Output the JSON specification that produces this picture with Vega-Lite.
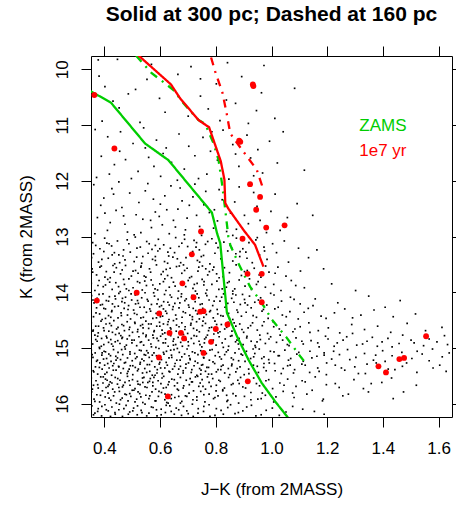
{
"$schema":"https://vega.github.io/schema/vega-lite/v6.json",
"width":361,"height":361,
"autosize":{"type":"none"},
"padding":{"left":91,"top":56,"right":4,"bottom":89},
"title":{"text":"Solid at 300 pc; Dashed at 160 pc","fontSize":21,"fontWeight":"bold","font":"Liberation Sans","offset":21,"color":"black","anchor":"middle","frame":"group"},
"config":{"font":"Liberation Sans","view":{"stroke":"black","strokeWidth":1},"axis":{"grid":false}},
"datasets":{
"field":[
{"j":0.378,"k":9.83},{"j":0.447,"k":9.82},{"j":0.381,"k":10.12},{"j":0.553,"k":10.18},{"j":0.402,"k":10.31},{"j":0.486,"k":10.44},{"j":0.512,"k":10.36},{"j":0.598,"k":10.52},{"j":0.664,"k":10.09},{"j":0.711,"k":9.95},{"j":0.745,"k":10.48},{"j":0.802,"k":10.26},{"j":0.842,"k":9.88},{"j":0.871,"k":10.61},{"j":0.893,"k":10.13},{"j":0.946,"k":10.74},{"j":0.964,"k":10.42},{"j":1.012,"k":10.88},{"j":0.618,"k":10.77},{"j":0.453,"k":10.69},{"j":0.392,"k":10.93},{"j":0.528,"k":10.95},{"j":0.701,"k":10.84},{"j":0.773,"k":10.71},{"j":0.917,"k":10.97},{"j":0.838,"k":10.55},{"j":1.083,"k":10.34},{"j":0.569,"k":9.91},{"j":0.745,"k":10.17},{"j":0.973,"k":9.93},{"j":0.431,"k":10.57},{"j":0.815,"k":10.92},
{"j":0.367,"k":11.08},{"j":0.412,"k":11.21},{"j":0.458,"k":11.12},{"j":0.503,"k":11.33},{"j":0.541,"k":11.05},{"j":0.587,"k":11.27},{"j":0.622,"k":11.41},{"j":0.668,"k":11.16},{"j":0.703,"k":11.38},{"j":0.754,"k":11.22},{"j":0.781,"k":11.47},{"j":0.826,"k":11.09},{"j":0.861,"k":11.35},{"j":0.912,"k":11.18},{"j":0.951,"k":11.44},{"j":0.993,"k":11.29},{"j":1.042,"k":11.12},{"j":0.389,"k":11.56},{"j":0.436,"k":11.71},{"j":0.476,"k":11.62},{"j":0.521,"k":11.83},{"j":0.559,"k":11.58},{"j":0.602,"k":11.92},{"j":0.641,"k":11.67},{"j":0.687,"k":11.79},{"j":0.725,"k":11.55},{"j":0.768,"k":11.88},{"j":0.806,"k":11.63},{"j":0.847,"k":11.97},{"j":0.883,"k":11.74},{"j":0.925,"k":11.59},{"j":0.968,"k":11.86},{"j":1.021,"k":11.68},{"j":0.372,"k":11.94},{"j":0.455,"k":11.47},{"j":0.611,"k":11.51},{"j":0.738,"k":11.96},{"j":0.871,"k":11.52},{"j":0.547,"k":11.41},{"j":0.662,"k":11.99},{"j":1.118,"k":11.81},{"j":0.418,"k":11.88},{"j":0.786,"k":11.12},{"j":0.497,"k":11.96},{"j":0.578,"k":11.74},{"j":0.936,"k":11.91},
{"j":0.362,"k":12.07},{"j":0.398,"k":12.31},{"j":0.427,"k":12.14},{"j":0.463,"k":12.48},{"j":0.491,"k":12.22},{"j":0.524,"k":12.39},{"j":0.556,"k":12.05},{"j":0.583,"k":12.56},{"j":0.617,"k":12.27},{"j":0.648,"k":12.71},{"j":0.672,"k":12.13},{"j":0.705,"k":12.44},{"j":0.731,"k":12.62},{"j":0.764,"k":12.19},{"j":0.792,"k":12.85},{"j":0.823,"k":12.34},{"j":0.853,"k":12.58},{"j":0.884,"k":12.11},{"j":0.917,"k":12.77},{"j":0.948,"k":12.46},{"j":0.982,"k":12.93},{"j":1.013,"k":12.24},{"j":1.057,"k":12.66},{"j":1.092,"k":12.41},{"j":0.375,"k":12.66},{"j":0.411,"k":12.89},{"j":0.442,"k":12.53},{"j":0.474,"k":12.78},{"j":0.507,"k":12.97},{"j":0.538,"k":12.69},{"j":0.569,"k":12.84},{"j":0.601,"k":12.42},{"j":0.633,"k":12.95},{"j":0.664,"k":12.51},{"j":0.691,"k":12.88},{"j":0.718,"k":12.29},{"j":0.749,"k":12.98},{"j":0.777,"k":12.57},{"j":0.806,"k":12.72},{"j":0.839,"k":12.91},{"j":0.868,"k":12.38},{"j":0.903,"k":12.62},{"j":0.387,"k":12.44},{"j":0.452,"k":12.02},{"j":0.514,"k":12.61},{"j":0.576,"k":12.33},{"j":0.639,"k":12.09},{"j":0.697,"k":12.67},{"j":0.757,"k":12.43},{"j":0.812,"k":12.16},{"j":0.874,"k":12.87},{"j":0.936,"k":12.21},{"j":0.998,"k":12.55},{"j":0.421,"k":12.75},{"j":0.483,"k":12.92},{"j":0.547,"k":12.18},{"j":0.608,"k":12.79},{"j":0.679,"k":12.36},{"j":0.742,"k":12.82},{"j":0.795,"k":12.52},{"j":0.366,"k":12.95},{"j":0.433,"k":12.24},{"j":0.597,"k":12.64},{"j":0.655,"k":12.83},{"j":0.725,"k":12.06},{"j":0.861,"k":12.98},{"j":0.959,"k":12.71},{"j":1.031,"k":12.89},{"j":1.148,"k":12.62},{"j":0.531,"k":12.93},{"j":0.624,"k":12.52},{"j":0.402,"k":12.58},{"j":0.566,"k":12.71},{"j":0.687,"k":12.97},{"j":0.469,"k":12.63},
{"j":0.358,"k":13.11},{"j":0.384,"k":13.22},{"j":0.401,"k":13.03},{"j":0.426,"k":13.17},{"j":0.447,"k":13.08},{"j":0.469,"k":13.24},{"j":0.488,"k":13.13},{"j":0.511,"k":13.01},{"j":0.529,"k":13.19},{"j":0.552,"k":13.09},{"j":0.571,"k":13.23},{"j":0.594,"k":13.05},{"j":0.613,"k":13.15},{"j":0.637,"k":13.21},{"j":0.656,"k":13.02},{"j":0.678,"k":13.12},{"j":0.699,"k":13.18},{"j":0.722,"k":13.07},{"j":0.741,"k":13.24},{"j":0.763,"k":13.14},{"j":0.786,"k":13.04},{"j":0.808,"k":13.2},{"j":0.829,"k":13.1},{"j":0.852,"k":13.16},{"j":0.874,"k":13.03},{"j":0.897,"k":13.22},{"j":0.919,"k":13.11},{"j":0.944,"k":13.06},{"j":0.973,"k":13.19},{"j":1.004,"k":13.13},{"j":1.046,"k":13.08},{"j":1.097,"k":13.21},{"j":0.417,"k":13.13},{"j":0.583,"k":13.16},{"j":0.731,"k":13.11},
{"j":0.361,"k":13.31},{"j":0.379,"k":13.46},{"j":0.398,"k":13.27},{"j":0.414,"k":13.39},{"j":0.437,"k":13.49},{"j":0.452,"k":13.33},{"j":0.474,"k":13.42},{"j":0.493,"k":13.28},{"j":0.516,"k":13.37},{"j":0.534,"k":13.48},{"j":0.557,"k":13.3},{"j":0.573,"k":13.41},{"j":0.592,"k":13.26},{"j":0.616,"k":13.45},{"j":0.631,"k":13.35},{"j":0.652,"k":13.29},{"j":0.674,"k":13.47},{"j":0.693,"k":13.38},{"j":0.717,"k":13.27},{"j":0.734,"k":13.43},{"j":0.756,"k":13.34},{"j":0.779,"k":13.49},{"j":0.797,"k":13.3},{"j":0.818,"k":13.4},{"j":0.843,"k":13.26},{"j":0.861,"k":13.44},{"j":0.886,"k":13.36},{"j":0.908,"k":13.28},{"j":0.931,"k":13.47},{"j":0.957,"k":13.33},{"j":0.984,"k":13.41},{"j":1.018,"k":13.29},{"j":1.061,"k":13.46},{"j":1.133,"k":13.38},{"j":0.428,"k":13.33},{"j":0.507,"k":13.45},{"j":0.662,"k":13.4},{"j":0.748,"k":13.36},{"j":0.583,"k":13.36},{"j":0.872,"k":13.31},
{"j":0.356,"k":13.58},{"j":0.372,"k":13.69},{"j":0.389,"k":13.53},{"j":0.407,"k":13.63},{"j":0.421,"k":13.74},{"j":0.443,"k":13.56},{"j":0.458,"k":13.67},{"j":0.476,"k":13.52},{"j":0.497,"k":13.71},{"j":0.512,"k":13.61},{"j":0.531,"k":13.55},{"j":0.549,"k":13.73},{"j":0.566,"k":13.64},{"j":0.587,"k":13.51},{"j":0.604,"k":13.68},{"j":0.622,"k":13.59},{"j":0.641,"k":13.74},{"j":0.659,"k":13.54},{"j":0.678,"k":13.66},{"j":0.697,"k":13.57},{"j":0.713,"k":13.72},{"j":0.736,"k":13.62},{"j":0.752,"k":13.53},{"j":0.771,"k":13.69},{"j":0.789,"k":13.6},{"j":0.812,"k":13.74},{"j":0.831,"k":13.56},{"j":0.849,"k":13.65},{"j":0.873,"k":13.51},{"j":0.892,"k":13.7},{"j":0.913,"k":13.61},{"j":0.938,"k":13.57},{"j":0.962,"k":13.73},{"j":0.991,"k":13.64},{"j":1.023,"k":13.55},{"j":1.052,"k":13.71},{"j":1.104,"k":13.62},{"j":1.187,"k":13.58},{"j":0.435,"k":13.64},{"j":0.521,"k":13.66},{"j":0.611,"k":13.63},{"j":0.684,"k":13.51},{"j":0.764,"k":13.58},{"j":0.803,"k":13.67},{"j":0.464,"k":13.6},
{"j":0.353,"k":13.84},{"j":0.366,"k":13.97},{"j":0.381,"k":13.79},{"j":0.396,"k":13.9},{"j":0.412,"k":13.77},{"j":0.428,"k":13.95},{"j":0.441,"k":13.83},{"j":0.457,"k":13.99},{"j":0.472,"k":13.86},{"j":0.488,"k":13.76},{"j":0.503,"k":13.92},{"j":0.519,"k":13.81},{"j":0.536,"k":13.96},{"j":0.551,"k":13.88},{"j":0.568,"k":13.78},{"j":0.582,"k":13.94},{"j":0.599,"k":13.85},{"j":0.617,"k":13.76},{"j":0.633,"k":13.91},{"j":0.648,"k":13.82},{"j":0.666,"k":13.98},{"j":0.682,"k":13.87},{"j":0.701,"k":13.79},{"j":0.718,"k":13.93},{"j":0.733,"k":13.84},{"j":0.751,"k":13.77},{"j":0.768,"k":13.96},{"j":0.786,"k":13.86},{"j":0.804,"k":13.8},{"j":0.823,"k":13.94},{"j":0.842,"k":13.83},{"j":0.861,"k":13.98},{"j":0.884,"k":13.78},{"j":0.905,"k":13.89},{"j":0.928,"k":13.95},{"j":0.952,"k":13.81},{"j":0.978,"k":13.91},{"j":1.008,"k":13.86},{"j":1.034,"k":13.97},{"j":1.071,"k":13.79},{"j":1.118,"k":13.92},{"j":1.216,"k":13.85},{"j":1.302,"k":13.97},{"j":0.404,"k":13.87},{"j":0.545,"k":13.8},{"j":0.692,"k":13.9},{"j":0.757,"k":13.87},{"j":0.621,"k":13.97},{"j":0.479,"k":13.94},{"j":0.838,"k":13.91},
{"j":0.354,"k":14.06},{"j":0.363,"k":14.19},{"j":0.374,"k":14.11},{"j":0.386,"k":14.23},{"j":0.395,"k":14.03},{"j":0.407,"k":14.15},{"j":0.418,"k":14.08},{"j":0.429,"k":14.21},{"j":0.44,"k":14.12},{"j":0.452,"k":14.02},{"j":0.463,"k":14.17},{"j":0.476,"k":14.09},{"j":0.487,"k":14.24},{"j":0.498,"k":14.14},{"j":0.511,"k":14.05},{"j":0.522,"k":14.2},{"j":0.534,"k":14.1},{"j":0.546,"k":14.01},{"j":0.557,"k":14.16},{"j":0.569,"k":14.22},{"j":0.58,"k":14.07},{"j":0.593,"k":14.13},{"j":0.605,"k":14.24},{"j":0.616,"k":14.04},{"j":0.628,"k":14.18},{"j":0.641,"k":14.09},{"j":0.653,"k":14.2},{"j":0.664,"k":14.11},{"j":0.677,"k":14.03},{"j":0.689,"k":14.15},{"j":0.702,"k":14.23},{"j":0.714,"k":14.06},{"j":0.726,"k":14.17},{"j":0.739,"k":14.1},{"j":0.751,"k":14.21},{"j":0.764,"k":14.02},{"j":0.776,"k":14.14},{"j":0.789,"k":14.24},{"j":0.802,"k":14.08},{"j":0.815,"k":14.16},{"j":0.828,"k":14.03},{"j":0.843,"k":14.2},{"j":0.857,"k":14.11},{"j":0.872,"k":14.05},{"j":0.888,"k":14.22},{"j":0.903,"k":14.13},{"j":0.921,"k":14.07},{"j":0.94,"k":14.18},{"j":0.961,"k":14.1},{"j":0.983,"k":14.23},{"j":1.009,"k":14.05},{"j":1.036,"k":14.16},{"j":1.068,"k":14.09},{"j":1.103,"k":14.21},{"j":1.157,"k":14.12},{"j":1.238,"k":14.19},{"j":1.349,"k":14.07},{"j":1.462,"k":14.15},
{"j":0.352,"k":14.33},{"j":0.361,"k":14.44},{"j":0.372,"k":14.28},{"j":0.383,"k":14.39},{"j":0.392,"k":14.49},{"j":0.404,"k":14.3},{"j":0.415,"k":14.42},{"j":0.426,"k":14.35},{"j":0.437,"k":14.26},{"j":0.449,"k":14.46},{"j":0.46,"k":14.37},{"j":0.471,"k":14.29},{"j":0.483,"k":14.41},{"j":0.494,"k":14.48},{"j":0.505,"k":14.32},{"j":0.517,"k":14.4},{"j":0.528,"k":14.27},{"j":0.54,"k":14.45},{"j":0.551,"k":14.36},{"j":0.563,"k":14.3},{"j":0.574,"k":14.47},{"j":0.586,"k":14.38},{"j":0.598,"k":14.26},{"j":0.609,"k":14.43},{"j":0.62,"k":14.34},{"j":0.632,"k":14.49},{"j":0.645,"k":14.31},{"j":0.656,"k":14.41},{"j":0.668,"k":14.28},{"j":0.679,"k":14.45},{"j":0.691,"k":14.37},{"j":0.704,"k":14.27},{"j":0.716,"k":14.44},{"j":0.728,"k":14.33},{"j":0.741,"k":14.48},{"j":0.753,"k":14.29},{"j":0.766,"k":14.4},{"j":0.778,"k":14.35},{"j":0.791,"k":14.46},{"j":0.805,"k":14.31},{"j":0.818,"k":14.42},{"j":0.833,"k":14.27},{"j":0.846,"k":14.38},{"j":0.861,"k":14.49},{"j":0.876,"k":14.32},{"j":0.892,"k":14.43},{"j":0.909,"k":14.36},{"j":0.927,"k":14.28},{"j":0.946,"k":14.45},{"j":0.966,"k":14.34},{"j":0.988,"k":14.47},{"j":1.012,"k":14.3},{"j":1.039,"k":14.41},{"j":1.066,"k":14.35},{"j":1.096,"k":14.48},{"j":1.132,"k":14.29},{"j":1.178,"k":14.43},{"j":1.226,"k":14.37},{"j":1.291,"k":14.46},{"j":1.368,"k":14.32},{"j":1.437,"k":14.44},{"j":1.517,"k":14.39},{"j":0.423,"k":14.45},{"j":0.612,"k":14.3},{"j":0.734,"k":14.39},
{"j":0.353,"k":14.55},{"j":0.36,"k":14.68},{"j":0.369,"k":14.61},{"j":0.378,"k":14.73},{"j":0.388,"k":14.52},{"j":0.397,"k":14.64},{"j":0.406,"k":14.57},{"j":0.416,"k":14.7},{"j":0.425,"k":14.6},{"j":0.434,"k":14.51},{"j":0.444,"k":14.66},{"j":0.453,"k":14.74},{"j":0.463,"k":14.58},{"j":0.472,"k":14.69},{"j":0.482,"k":14.53},{"j":0.491,"k":14.63},{"j":0.501,"k":14.72},{"j":0.51,"k":14.56},{"j":0.52,"k":14.67},{"j":0.53,"k":14.6},{"j":0.539,"k":14.74},{"j":0.549,"k":14.52},{"j":0.559,"k":14.65},{"j":0.568,"k":14.57},{"j":0.578,"k":14.71},{"j":0.588,"k":14.61},{"j":0.598,"k":14.54},{"j":0.607,"k":14.68},{"j":0.617,"k":14.73},{"j":0.627,"k":14.58},{"j":0.637,"k":14.64},{"j":0.648,"k":14.51},{"j":0.658,"k":14.7},{"j":0.668,"k":14.62},{"j":0.678,"k":14.55},{"j":0.689,"k":14.67},{"j":0.699,"k":14.74},{"j":0.71,"k":14.59},{"j":0.72,"k":14.65},{"j":0.731,"k":14.53},{"j":0.741,"k":14.71},{"j":0.752,"k":14.6},{"j":0.763,"k":14.56},{"j":0.774,"k":14.69},{"j":0.785,"k":14.63},{"j":0.797,"k":14.52},{"j":0.808,"k":14.73},{"j":0.82,"k":14.58},{"j":0.832,"k":14.66},{"j":0.845,"k":14.54},{"j":0.858,"k":14.7},{"j":0.872,"k":14.61},{"j":0.886,"k":14.57},{"j":0.9,"k":14.72},{"j":0.916,"k":14.64},{"j":0.932,"k":14.55},{"j":0.949,"k":14.68},{"j":0.967,"k":14.6},{"j":0.986,"k":14.74},{"j":1.006,"k":14.53},{"j":1.028,"k":14.66},{"j":1.051,"k":14.59},{"j":1.077,"k":14.71},{"j":1.103,"k":14.62},{"j":1.134,"k":14.55},{"j":1.168,"k":14.69},{"j":1.204,"k":14.64},{"j":1.245,"k":14.73},{"j":1.288,"k":14.58},{"j":1.334,"k":14.67},{"j":1.381,"k":14.61},{"j":1.428,"k":14.72},{"j":1.487,"k":14.56},{"j":1.553,"k":14.69},{"j":1.612,"k":14.63},
{"j":0.352,"k":14.81},{"j":0.358,"k":14.93},{"j":0.366,"k":14.77},{"j":0.374,"k":14.88},{"j":0.382,"k":14.99},{"j":0.39,"k":14.83},{"j":0.398,"k":14.94},{"j":0.407,"k":14.79},{"j":0.415,"k":14.9},{"j":0.423,"k":14.85},{"j":0.431,"k":14.97},{"j":0.44,"k":14.76},{"j":0.448,"k":14.87},{"j":0.456,"k":14.92},{"j":0.465,"k":14.81},{"j":0.473,"k":14.98},{"j":0.482,"k":14.84},{"j":0.49,"k":14.78},{"j":0.499,"k":14.91},{"j":0.507,"k":14.86},{"j":0.516,"k":14.96},{"j":0.524,"k":14.8},{"j":0.533,"k":14.89},{"j":0.541,"k":14.95},{"j":0.55,"k":14.77},{"j":0.559,"k":14.86},{"j":0.567,"k":14.93},{"j":0.576,"k":14.82},{"j":0.585,"k":14.99},{"j":0.594,"k":14.87},{"j":0.602,"k":14.79},{"j":0.611,"k":14.91},{"j":0.62,"k":14.84},{"j":0.629,"k":14.97},{"j":0.638,"k":14.78},{"j":0.647,"k":14.88},{"j":0.656,"k":14.94},{"j":0.665,"k":14.81},{"j":0.674,"k":14.9},{"j":0.684,"k":14.76},{"j":0.693,"k":14.85},{"j":0.702,"k":14.96},{"j":0.712,"k":14.83},{"j":0.721,"k":14.92},{"j":0.731,"k":14.79},{"j":0.74,"k":14.88},{"j":0.75,"k":14.98},{"j":0.76,"k":14.84},{"j":0.77,"k":14.77},{"j":0.78,"k":14.9},{"j":0.791,"k":14.86},{"j":0.801,"k":14.95},{"j":0.812,"k":14.8},{"j":0.823,"k":14.91},{"j":0.834,"k":14.84},{"j":0.846,"k":14.97},{"j":0.858,"k":14.78},{"j":0.871,"k":14.89},{"j":0.884,"k":14.83},{"j":0.898,"k":14.94},{"j":0.912,"k":14.79},{"j":0.927,"k":14.88},{"j":0.943,"k":14.99},{"j":0.96,"k":14.85},{"j":0.978,"k":14.92},{"j":0.997,"k":14.8},{"j":1.018,"k":14.9},{"j":1.04,"k":14.86},{"j":1.063,"k":14.96},{"j":1.088,"k":14.82},{"j":1.114,"k":14.93},{"j":1.142,"k":14.87},{"j":1.171,"k":14.98},{"j":1.203,"k":14.84},{"j":1.236,"k":14.91},{"j":1.27,"k":14.8},{"j":1.306,"k":14.95},{"j":1.343,"k":14.88},{"j":1.38,"k":14.97},{"j":1.418,"k":14.83},{"j":1.458,"k":14.92},{"j":1.501,"k":14.86},{"j":1.546,"k":14.96},{"j":1.594,"k":14.89},{"j":1.632,"k":14.94},
{"j":0.353,"k":15.04},{"j":0.359,"k":15.17},{"j":0.367,"k":15.09},{"j":0.375,"k":15.22},{"j":0.383,"k":15.01},{"j":0.391,"k":15.13},{"j":0.399,"k":15.06},{"j":0.408,"k":15.19},{"j":0.416,"k":15.11},{"j":0.424,"k":15.24},{"j":0.433,"k":15.03},{"j":0.441,"k":15.15},{"j":0.449,"k":15.08},{"j":0.458,"k":15.21},{"j":0.466,"k":15.12},{"j":0.475,"k":15.02},{"j":0.483,"k":15.18},{"j":0.492,"k":15.07},{"j":0.5,"k":15.23},{"j":0.509,"k":15.1},{"j":0.517,"k":15.16},{"j":0.526,"k":15.04},{"j":0.535,"k":15.2},{"j":0.543,"k":15.12},{"j":0.552,"k":15.05},{"j":0.561,"k":15.17},{"j":0.57,"k":15.24},{"j":0.578,"k":15.09},{"j":0.587,"k":15.14},{"j":0.596,"k":15.01},{"j":0.605,"k":15.21},{"j":0.614,"k":15.11},{"j":0.623,"k":15.06},{"j":0.632,"k":15.18},{"j":0.641,"k":15.13},{"j":0.65,"k":15.03},{"j":0.66,"k":15.22},{"j":0.669,"k":15.08},{"j":0.678,"k":15.16},{"j":0.688,"k":15.11},{"j":0.697,"k":15.02},{"j":0.707,"k":15.19},{"j":0.716,"k":15.07},{"j":0.726,"k":15.24},{"j":0.736,"k":15.12},{"j":0.746,"k":15.05},{"j":0.756,"k":15.17},{"j":0.766,"k":15.1},{"j":0.777,"k":15.22},{"j":0.787,"k":15.03},{"j":0.798,"k":15.14},{"j":0.809,"k":15.08},{"j":0.82,"k":15.2},{"j":0.832,"k":15.12},{"j":0.844,"k":15.04},{"j":0.856,"k":15.18},{"j":0.869,"k":15.09},{"j":0.882,"k":15.23},{"j":0.896,"k":15.13},{"j":0.91,"k":15.06},{"j":0.925,"k":15.19},{"j":0.94,"k":15.1},{"j":0.956,"k":15.02},{"j":0.973,"k":15.16},{"j":0.99,"k":15.21},{"j":1.009,"k":15.07},{"j":1.028,"k":15.14},{"j":1.048,"k":15.04},{"j":1.069,"k":15.19},{"j":1.091,"k":15.11},{"j":1.114,"k":15.24},{"j":1.138,"k":15.06},{"j":1.163,"k":15.15},{"j":1.189,"k":15.09},{"j":1.216,"k":15.2},{"j":1.244,"k":15.12},{"j":1.273,"k":15.03},{"j":1.303,"k":15.17},{"j":1.334,"k":15.1},{"j":1.366,"k":15.22},{"j":1.399,"k":15.05},{"j":1.433,"k":15.14},{"j":1.468,"k":15.08},{"j":1.504,"k":15.19},{"j":1.541,"k":15.11},{"j":1.578,"k":15.02},{"j":1.613,"k":15.16},{"j":1.638,"k":15.09},{"j":0.397,"k":15.2},{"j":0.548,"k":15.13},
{"j":0.352,"k":15.29},{"j":0.36,"k":15.41},{"j":0.368,"k":15.34},{"j":0.376,"k":15.47},{"j":0.384,"k":15.27},{"j":0.392,"k":15.38},{"j":0.401,"k":15.31},{"j":0.409,"k":15.44},{"j":0.417,"k":15.36},{"j":0.426,"k":15.49},{"j":0.434,"k":15.28},{"j":0.442,"k":15.4},{"j":0.451,"k":15.33},{"j":0.459,"k":15.45},{"j":0.468,"k":15.37},{"j":0.476,"k":15.26},{"j":0.485,"k":15.42},{"j":0.493,"k":15.32},{"j":0.502,"k":15.48},{"j":0.511,"k":15.35},{"j":0.519,"k":15.41},{"j":0.528,"k":15.29},{"j":0.537,"k":15.45},{"j":0.545,"k":15.37},{"j":0.554,"k":15.3},{"j":0.563,"k":15.42},{"j":0.572,"k":15.49},{"j":0.581,"k":15.34},{"j":0.59,"k":15.39},{"j":0.599,"k":15.26},{"j":0.608,"k":15.46},{"j":0.617,"k":15.36},{"j":0.626,"k":15.31},{"j":0.635,"k":15.43},{"j":0.645,"k":15.38},{"j":0.654,"k":15.28},{"j":0.664,"k":15.47},{"j":0.673,"k":15.33},{"j":0.683,"k":15.41},{"j":0.692,"k":15.36},{"j":0.702,"k":15.27},{"j":0.712,"k":15.44},{"j":0.722,"k":15.32},{"j":0.732,"k":15.49},{"j":0.742,"k":15.37},{"j":0.753,"k":15.3},{"j":0.763,"k":15.42},{"j":0.774,"k":15.35},{"j":0.785,"k":15.47},{"j":0.796,"k":15.28},{"j":0.808,"k":15.39},{"j":0.82,"k":15.33},{"j":0.832,"k":15.45},{"j":0.845,"k":15.37},{"j":0.858,"k":15.29},{"j":0.872,"k":15.43},{"j":0.887,"k":15.34},{"j":0.902,"k":15.48},{"j":0.918,"k":15.38},{"j":0.935,"k":15.31},{"j":0.953,"k":15.44},{"j":0.972,"k":15.35},{"j":0.992,"k":15.27},{"j":1.013,"k":15.41},{"j":1.035,"k":15.46},{"j":1.058,"k":15.32},{"j":1.083,"k":15.39},{"j":1.109,"k":15.29},{"j":1.137,"k":15.44},{"j":1.166,"k":15.36},{"j":1.197,"k":15.48},{"j":1.229,"k":15.31},{"j":1.263,"k":15.4},{"j":1.299,"k":15.34},{"j":1.337,"k":15.46},{"j":1.376,"k":15.27},{"j":1.419,"k":15.38},{"j":1.47,"k":15.33},{"j":1.522,"k":15.44},{"j":1.58,"k":15.36},{"j":0.43,"k":15.32},{"j":0.589,"k":15.45},{"j":0.747,"k":15.4},
{"j":0.353,"k":15.54},{"j":0.361,"k":15.67},{"j":0.37,"k":15.59},{"j":0.378,"k":15.72},{"j":0.387,"k":15.52},{"j":0.395,"k":15.63},{"j":0.404,"k":15.56},{"j":0.413,"k":15.69},{"j":0.421,"k":15.61},{"j":0.43,"k":15.74},{"j":0.439,"k":15.53},{"j":0.447,"k":15.65},{"j":0.456,"k":15.58},{"j":0.465,"k":15.7},{"j":0.474,"k":15.62},{"j":0.483,"k":15.51},{"j":0.492,"k":15.67},{"j":0.501,"k":15.57},{"j":0.51,"k":15.73},{"j":0.519,"k":15.6},{"j":0.528,"k":15.66},{"j":0.537,"k":15.54},{"j":0.546,"k":15.7},{"j":0.556,"k":15.62},{"j":0.565,"k":15.55},{"j":0.574,"k":15.68},{"j":0.584,"k":15.74},{"j":0.593,"k":15.59},{"j":0.603,"k":15.64},{"j":0.613,"k":15.51},{"j":0.622,"k":15.71},{"j":0.632,"k":15.61},{"j":0.642,"k":15.56},{"j":0.652,"k":15.68},{"j":0.662,"k":15.63},{"j":0.673,"k":15.53},{"j":0.683,"k":15.72},{"j":0.694,"k":15.58},{"j":0.705,"k":15.66},{"j":0.716,"k":15.61},{"j":0.727,"k":15.52},{"j":0.739,"k":15.69},{"j":0.751,"k":15.57},{"j":0.763,"k":15.74},{"j":0.776,"k":15.62},{"j":0.789,"k":15.55},{"j":0.802,"k":15.67},{"j":0.816,"k":15.6},{"j":0.831,"k":15.72},{"j":0.846,"k":15.53},{"j":0.862,"k":15.64},{"j":0.879,"k":15.58},{"j":0.897,"k":15.7},{"j":0.916,"k":15.62},{"j":0.936,"k":15.54},{"j":0.957,"k":15.68},{"j":0.98,"k":15.59},{"j":1.004,"k":15.73},{"j":1.03,"k":15.63},{"j":1.058,"k":15.56},{"j":1.088,"k":15.69},{"j":1.121,"k":15.61},{"j":1.157,"k":15.52},{"j":1.197,"k":15.66},{"j":1.243,"k":15.71},{"j":1.296,"k":15.57},{"j":1.358,"k":15.64},{"j":1.431,"k":15.54},{"j":1.52,"k":15.67},{"j":0.417,"k":15.66},{"j":0.562,"k":15.6},
{"j":0.354,"k":15.79},{"j":0.363,"k":15.92},{"j":0.373,"k":15.84},{"j":0.383,"k":15.97},{"j":0.393,"k":15.77},{"j":0.403,"k":15.88},{"j":0.413,"k":15.81},{"j":0.423,"k":15.94},{"j":0.433,"k":15.86},{"j":0.443,"k":15.99},{"j":0.454,"k":15.78},{"j":0.464,"k":15.9},{"j":0.474,"k":15.83},{"j":0.485,"k":15.95},{"j":0.495,"k":15.87},{"j":0.506,"k":15.76},{"j":0.516,"k":15.92},{"j":0.527,"k":15.82},{"j":0.538,"k":15.98},{"j":0.549,"k":15.85},{"j":0.56,"k":15.91},{"j":0.571,"k":15.79},{"j":0.582,"k":15.95},{"j":0.594,"k":15.87},{"j":0.605,"k":15.8},{"j":0.617,"k":15.93},{"j":0.629,"k":15.99},{"j":0.641,"k":15.84},{"j":0.653,"k":15.89},{"j":0.666,"k":15.76},{"j":0.678,"k":15.96},{"j":0.691,"k":15.86},{"j":0.704,"k":15.81},{"j":0.718,"k":15.93},{"j":0.732,"k":15.88},{"j":0.746,"k":15.78},{"j":0.761,"k":15.97},{"j":0.776,"k":15.83},{"j":0.792,"k":15.91},{"j":0.808,"k":15.86},{"j":0.825,"k":15.77},{"j":0.843,"k":15.94},{"j":0.862,"k":15.82},{"j":0.882,"k":15.99},{"j":0.903,"k":15.87},{"j":0.926,"k":15.8},{"j":0.951,"k":15.92},{"j":0.978,"k":15.85},{"j":1.008,"k":15.97},{"j":1.042,"k":15.78},{"j":1.081,"k":15.89},{"j":1.127,"k":15.83},{"j":1.183,"k":15.95},{"j":1.256,"k":15.86},{"j":1.348,"k":15.79},{"j":1.437,"k":15.91},
{"j":0.355,"k":16.04},{"j":0.366,"k":16.17},{"j":0.378,"k":16.09},{"j":0.39,"k":16.22},{"j":0.402,"k":16.02},{"j":0.414,"k":16.13},{"j":0.427,"k":16.06},{"j":0.439,"k":16.19},{"j":0.452,"k":16.11},{"j":0.465,"k":16.23},{"j":0.478,"k":16.03},{"j":0.491,"k":16.15},{"j":0.505,"k":16.08},{"j":0.518,"k":16.2},{"j":0.532,"k":16.12},{"j":0.546,"k":16.01},{"j":0.56,"k":16.17},{"j":0.575,"k":16.07},{"j":0.589,"k":16.22},{"j":0.604,"k":16.1},{"j":0.619,"k":16.16},{"j":0.635,"k":16.04},{"j":0.651,"k":16.19},{"j":0.667,"k":16.11},{"j":0.684,"k":16.05},{"j":0.701,"k":16.18},{"j":0.719,"k":16.23},{"j":0.737,"k":16.09},{"j":0.756,"k":16.14},{"j":0.776,"k":16.02},{"j":0.797,"k":16.21},{"j":0.819,"k":16.12},{"j":0.843,"k":16.07},{"j":0.869,"k":16.18},{"j":0.897,"k":16.13},{"j":0.928,"k":16.03},{"j":0.963,"k":16.2},{"j":1.003,"k":16.08},{"j":1.052,"k":16.15},{"j":1.112,"k":16.1},{"j":1.189,"k":16.19},
{"j":0.949,"k":13.02},{"j":0.887,"k":13.27},{"j":0.823,"k":13.44},{"j":0.771,"k":13.09},{"j":0.709,"k":13.31},{"j":0.668,"k":13.18},{"j":0.627,"k":13.48},{"j":0.561,"k":13.13},{"j":0.538,"k":13.36},{"j":0.482,"k":13.06},{"j":0.436,"k":13.29},{"j":0.391,"k":13.41},{"j":0.369,"k":13.16},{"j":0.455,"k":13.47},{"j":0.599,"k":13.22},{"j":0.646,"k":13.37},{"j":0.742,"k":13.46},{"j":0.801,"k":13.12},{"j":0.912,"k":13.39},{"j":0.975,"k":13.26},{"j":0.517,"k":13.21},{"j":0.409,"k":13.12},{"j":0.688,"k":13.05},{"j":0.857,"k":13.21},{"j":0.583,"k":13.43},{"j":0.729,"k":13.19},{"j":0.354,"k":13.38},{"j":1.163,"k":13.24},{"j":0.467,"k":13.35},{"j":0.628,"k":13.28},
{"j":0.979,"k":13.53},{"j":0.946,"k":13.86},{"j":0.903,"k":13.63},{"j":0.868,"k":13.94},{"j":0.826,"k":13.72},{"j":0.793,"k":13.55},{"j":0.758,"k":13.81},{"j":0.727,"k":13.98},{"j":0.688,"k":13.61},{"j":0.654,"k":13.89},{"j":0.627,"k":13.7},{"j":0.591,"k":13.96},{"j":0.562,"k":13.58},{"j":0.527,"k":13.83},{"j":0.503,"k":13.62},{"j":0.469,"k":13.77},{"j":0.431,"k":13.52},{"j":0.402,"k":13.73},{"j":0.377,"k":13.88},{"j":0.358,"k":13.64},{"j":0.451,"k":13.9},{"j":0.543,"k":13.71},{"j":0.612,"k":13.81},{"j":0.706,"k":13.74},{"j":0.777,"k":13.63},{"j":0.848,"k":13.81},{"j":0.921,"k":13.76},{"j":1.013,"k":13.66},{"j":1.087,"k":13.88},{"j":0.384,"k":13.55},{"j":0.488,"k":13.97},{"j":0.574,"k":13.87},{"j":0.669,"k":13.53},{"j":0.739,"k":13.55},{"j":0.811,"k":13.95},{"j":0.956,"k":13.69},{"j":0.419,"k":13.82},{"j":0.636,"k":13.57},{"j":0.532,"k":13.53},{"j":0.723,"k":13.86},
{"j":0.997,"k":14.02},{"j":0.971,"k":14.31},{"j":0.953,"k":14.14},{"j":0.934,"k":14.42},{"j":0.914,"k":14.23},{"j":0.896,"k":14.04},{"j":0.879,"k":14.36},{"j":0.865,"k":14.18},{"j":0.849,"k":14.47},{"j":0.836,"k":14.27},{"j":0.821,"k":14.09},{"j":0.807,"k":14.39},{"j":0.794,"k":14.16},{"j":0.781,"k":14.33},{"j":0.768,"k":14.06},{"j":0.757,"k":14.45},{"j":0.744,"k":14.22},{"j":0.733,"k":14.03},{"j":0.719,"k":14.29},{"j":0.707,"k":14.41},{"j":0.694,"k":14.12},{"j":0.683,"k":14.35},{"j":0.671,"k":14.19},{"j":0.659,"k":14.48},{"j":0.647,"k":14.26},{"j":0.636,"k":14.05},{"j":0.624,"k":14.38},{"j":0.613,"k":14.17},{"j":0.601,"k":14.44},{"j":0.589,"k":14.21},{"j":0.577,"k":14.01},{"j":0.566,"k":14.34},{"j":0.554,"k":14.13},{"j":0.543,"k":14.27},{"j":0.531,"k":14.46},{"j":0.519,"k":14.15},{"j":0.508,"k":14.38},{"j":0.496,"k":14.03},{"j":0.485,"k":14.31},{"j":0.473,"k":14.19},{"j":0.461,"k":14.42},{"j":0.45,"k":14.25},{"j":0.438,"k":14.07},{"j":0.427,"k":14.33},{"j":0.415,"k":14.16},{"j":0.404,"k":14.47},{"j":0.393,"k":14.22},{"j":0.381,"k":14.04},{"j":0.37,"k":14.37},{"j":0.359,"k":14.14},{"j":1.024,"k":14.27},{"j":1.053,"k":14.44},{"j":1.081,"k":14.13},{"j":1.117,"k":14.36},{"j":1.149,"k":14.24},{"j":1.196,"k":14.47},{"j":1.263,"k":14.3},{"j":1.321,"k":14.41},{"j":1.408,"k":14.27},{"j":0.398,"k":14.29},{"j":0.512,"k":14.21},{"j":0.587,"k":14.46},{"j":0.676,"k":14.08},{"j":0.748,"k":14.37},{"j":0.826,"k":14.43},{"j":0.905,"k":14.19},{"j":0.465,"k":14.11},{"j":0.633,"k":14.23},{"j":0.716,"k":14.49},{"j":0.861,"k":14.03},
{"j":1.008,"k":14.62},{"j":0.991,"k":14.84},{"j":0.973,"k":14.53},{"j":0.958,"k":14.77},{"j":0.941,"k":14.96},{"j":0.925,"k":14.6},{"j":0.911,"k":14.82},{"j":0.894,"k":14.67},{"j":0.881,"k":14.93},{"j":0.866,"k":14.55},{"j":0.853,"k":14.79},{"j":0.839,"k":14.63},{"j":0.827,"k":14.99},{"j":0.815,"k":14.71},{"j":0.803,"k":14.58},{"j":0.789,"k":14.87},{"j":0.777,"k":14.64},{"j":0.765,"k":14.81},{"j":0.754,"k":14.52},{"j":0.743,"k":14.94},{"j":0.732,"k":14.68},{"j":0.722,"k":14.78},{"j":0.711,"k":14.56},{"j":0.701,"k":14.89},{"j":0.69,"k":14.62},{"j":0.68,"k":14.97},{"j":0.669,"k":14.73},{"j":0.659,"k":14.59},{"j":0.649,"k":14.84},{"j":0.639,"k":14.66},{"j":0.629,"k":14.53},{"j":0.619,"k":14.91},{"j":0.609,"k":14.75},{"j":0.599,"k":14.61},{"j":0.589,"k":14.83},{"j":0.579,"k":14.69},{"j":0.569,"k":14.98},{"j":0.559,"k":14.57},{"j":0.549,"k":14.8},{"j":0.539,"k":14.64},{"j":0.529,"k":14.9},{"j":0.519,"k":14.71},{"j":0.509,"k":14.54},{"j":0.499,"k":14.86},{"j":0.489,"k":14.67},{"j":0.479,"k":14.95},{"j":0.469,"k":14.6},{"j":0.459,"k":14.78},{"j":0.449,"k":14.63},{"j":0.439,"k":14.89},{"j":0.429,"k":14.72},{"j":0.419,"k":14.56},{"j":0.409,"k":14.82},{"j":0.399,"k":14.69},{"j":0.389,"k":14.97},{"j":0.379,"k":14.61},{"j":0.369,"k":14.85},{"j":0.359,"k":14.7},{"j":1.031,"k":14.77},{"j":1.057,"k":14.94},{"j":1.084,"k":14.66},{"j":1.109,"k":14.88},{"j":1.138,"k":14.72},{"j":1.166,"k":14.91},{"j":1.194,"k":14.79},{"j":1.225,"k":14.97},{"j":1.257,"k":14.86},{"j":1.291,"k":14.74},{"j":1.327,"k":14.93},{"j":1.362,"k":14.81},{"j":1.397,"k":14.89},{"j":1.433,"k":14.98},{"j":1.471,"k":14.77},{"j":1.512,"k":14.91},{"j":1.566,"k":14.84},{"j":1.621,"k":14.78},{"j":0.463,"k":14.83},{"j":0.574,"k":14.77},{"j":0.684,"k":14.86},{"j":0.793,"k":14.75},{"j":0.876,"k":14.86},{"j":0.426,"k":14.93},{"j":0.537,"k":14.58},{"j":0.648,"k":14.95},{"j":0.759,"k":14.91},{"j":0.612,"k":14.57},{"j":0.376,"k":14.79},{"j":0.948,"k":14.89},
{"j":1.011,"k":15.28},{"j":0.996,"k":15.06},{"j":0.981,"k":15.41},{"j":0.965,"k":15.19},{"j":0.949,"k":15.33},{"j":0.934,"k":15.02},{"j":0.919,"k":15.46},{"j":0.905,"k":15.24},{"j":0.891,"k":15.11},{"j":0.877,"k":15.37},{"j":0.863,"k":15.21},{"j":0.85,"k":15.48},{"j":0.838,"k":15.07},{"j":0.826,"k":15.31},{"j":0.814,"k":15.16},{"j":0.802,"k":15.43},{"j":0.79,"k":15.25},{"j":0.779,"k":15.04},{"j":0.768,"k":15.35},{"j":0.757,"k":15.18},{"j":0.746,"k":15.47},{"j":0.735,"k":15.27},{"j":0.725,"k":15.09},{"j":0.714,"k":15.39},{"j":0.704,"k":15.14},{"j":0.693,"k":15.29},{"j":0.683,"k":15.45},{"j":0.672,"k":15.22},{"j":0.662,"k":15.01},{"j":0.652,"k":15.33},{"j":0.642,"k":15.17},{"j":0.632,"k":15.42},{"j":0.622,"k":15.26},{"j":0.612,"k":15.08},{"j":0.602,"k":15.36},{"j":0.592,"k":15.2},{"j":0.582,"k":15.49},{"j":0.572,"k":15.13},{"j":0.562,"k":15.3},{"j":0.552,"k":15.44},{"j":0.542,"k":15.23},{"j":0.532,"k":15.05},{"j":0.522,"k":15.38},{"j":0.512,"k":15.19},{"j":0.502,"k":15.32},{"j":0.492,"k":15.11},{"j":0.482,"k":15.46},{"j":0.472,"k":15.27},{"j":0.462,"k":15.03},{"j":0.452,"k":15.34},{"j":0.442,"k":15.22},{"j":0.432,"k":15.4},{"j":0.422,"k":15.14},{"j":0.412,"k":15.28},{"j":0.402,"k":15.47},{"j":0.392,"k":15.09},{"j":0.382,"k":15.35},{"j":0.372,"k":15.24},{"j":0.362,"k":15.43},{"j":0.356,"k":15.12},{"j":1.024,"k":15.14},{"j":1.042,"k":15.37},{"j":1.061,"k":15.22},{"j":1.079,"k":15.45},{"j":1.098,"k":15.08},{"j":1.121,"k":15.31},{"j":1.145,"k":15.18},{"j":1.171,"k":15.42},{"j":1.198,"k":15.27},{"j":1.223,"k":15.06},{"j":1.251,"k":15.36},{"j":1.281,"k":15.21},{"j":1.312,"k":15.46},{"j":1.343,"k":15.29},{"j":1.374,"k":15.13},{"j":1.408,"k":15.24},{"j":1.443,"k":15.39},{"j":1.485,"k":15.27},{"j":1.523,"k":15.06},{"j":1.566,"k":15.23},{"j":1.604,"k":15.31},{"j":1.627,"k":15.42},{"j":0.447,"k":15.18},{"j":0.557,"k":15.09},{"j":0.667,"k":15.38},{"j":0.774,"k":15.47},{"j":0.883,"k":15.02},{"j":0.529,"k":15.26},{"j":0.638,"k":15.04},{"j":0.749,"k":15.31},{"j":0.857,"k":15.32},{"j":0.973,"k":15.28},{"j":0.404,"k":15.07},{"j":0.489,"k":15.38},{"j":0.597,"k":15.29},{"j":0.708,"k":15.21},{"j":0.818,"k":15.39},{"j":0.936,"k":15.16},{"j":1.067,"k":15.31},{"j":1.189,"k":15.13},
{"j":0.99,"k":15.57},{"j":0.967,"k":15.81},{"j":0.946,"k":15.64},{"j":0.926,"k":15.93},{"j":0.907,"k":15.72},{"j":0.889,"k":15.53},{"j":0.872,"k":15.86},{"j":0.856,"k":15.66},{"j":0.84,"k":15.96},{"j":0.825,"k":15.75},{"j":0.811,"k":15.58},{"j":0.797,"k":15.89},{"j":0.783,"k":15.69},{"j":0.77,"k":15.52},{"j":0.757,"k":15.84},{"j":0.744,"k":15.63},{"j":0.732,"k":15.94},{"j":0.72,"k":15.77},{"j":0.708,"k":15.55},{"j":0.696,"k":15.87},{"j":0.685,"k":15.68},{"j":0.673,"k":15.99},{"j":0.662,"k":15.74},{"j":0.651,"k":15.57},{"j":0.64,"k":15.91},{"j":0.629,"k":15.66},{"j":0.618,"k":15.83},{"j":0.607,"k":15.54},{"j":0.596,"k":15.78},{"j":0.585,"k":15.95},{"j":0.574,"k":15.62},{"j":0.563,"k":15.86},{"j":0.553,"k":15.71},{"j":0.542,"k":15.53},{"j":0.531,"k":15.88},{"j":0.521,"k":15.65},{"j":0.51,"k":15.97},{"j":0.5,"k":15.76},{"j":0.489,"k":15.59},{"j":0.479,"k":15.84},{"j":0.468,"k":15.67},{"j":0.458,"k":15.93},{"j":0.448,"k":15.55},{"j":0.437,"k":15.79},{"j":0.427,"k":15.63},{"j":0.417,"k":15.9},{"j":0.406,"k":15.71},{"j":0.396,"k":15.52},{"j":0.386,"k":15.85},{"j":0.376,"k":15.66},{"j":0.366,"k":15.96},{"j":0.357,"k":15.74},{"j":1.016,"k":15.88},{"j":1.045,"k":15.67},{"j":1.076,"k":15.81},{"j":1.11,"k":15.59},{"j":1.146,"k":15.76},{"j":1.186,"k":15.92},{"j":1.229,"k":15.64},{"j":1.276,"k":15.83},{"j":1.33,"k":15.73},{"j":1.396,"k":15.62},{"j":1.474,"k":15.79},{"j":0.452,"k":15.71},{"j":0.538,"k":15.62},{"j":0.624,"k":15.98},{"j":0.713,"k":15.61},{"j":0.801,"k":15.77},{"j":0.884,"k":15.64},{"j":0.963,"k":15.91},{"j":0.491,"k":15.82},{"j":0.578,"k":15.53},{"j":0.667,"k":15.87},{"j":0.754,"k":15.69},{"j":0.839,"k":15.85},{"j":0.41,"k":15.58},{"j":0.735,"k":15.51},{"j":0.612,"k":15.72},{"j":0.521,"k":15.79},
{"j":0.981,"k":16.12},{"j":0.944,"k":16.22},{"j":0.911,"k":16.06},{"j":0.881,"k":16.16},{"j":0.853,"k":16.02},{"j":0.827,"k":16.19},{"j":0.802,"k":16.09},{"j":0.779,"k":16.23},{"j":0.757,"k":16.05},{"j":0.736,"k":16.17},{"j":0.716,"k":16.01},{"j":0.696,"k":16.13},{"j":0.677,"k":16.21},{"j":0.658,"k":16.08},{"j":0.64,"k":16.14},{"j":0.622,"k":16.03},{"j":0.604,"k":16.2},{"j":0.587,"k":16.11},{"j":0.569,"k":16.06},{"j":0.552,"k":16.22},{"j":0.535,"k":16.16},{"j":0.519,"k":16.04},{"j":0.502,"k":16.13},{"j":0.486,"k":16.19},{"j":0.47,"k":16.09},{"j":0.454,"k":16.01},{"j":0.438,"k":16.16},{"j":0.422,"k":16.23},{"j":0.407,"k":16.11},{"j":0.391,"k":16.05},{"j":0.376,"k":16.14},{"j":0.361,"k":16.2},{"j":1.028,"k":16.21},{"j":1.076,"k":16.05},{"j":1.154,"k":16.14}
],
"lines":[
{"c":"zs","o":1,"j":0.34,"k":10.36},{"c":"zs","o":2,"j":0.424,"k":10.6},{"c":"zs","o":3,"j":0.546,"k":11.33},{"c":"zs","o":4,"j":0.63,"k":11.63},{"c":"zs","o":5,"j":0.786,"k":12.57},{"c":"zs","o":6,"j":0.805,"k":12.95},{"c":"zs","o":7,"j":0.816,"k":13.12},{"c":"zs","o":8,"j":0.84,"k":14.37},{"c":"zs","o":9,"j":0.876,"k":14.79},{"c":"zs","o":10,"j":0.917,"k":15.21},{"c":"zs","o":11,"j":0.965,"k":15.63},{"c":"zs","o":12,"j":1.013,"k":15.96},{"c":"zs","o":13,"j":1.07,"k":16.32},
{"c":"zd","o":1,"j":0.495,"k":9.65},{"c":"zd","o":2,"j":0.57,"k":10.07},{"c":"zd","o":3,"j":0.618,"k":10.25},{"c":"zd","o":4,"j":0.648,"k":10.37},{"c":"zd","o":5,"j":0.684,"k":10.61},{"c":"zd","o":6,"j":0.738,"k":10.91},{"c":"zd","o":7,"j":0.762,"k":10.98},{"c":"zd","o":8,"j":0.792,"k":11.33},{"c":"zd","o":9,"j":0.81,"k":11.63},{"c":"zd","o":10,"j":0.822,"k":12.04},{"c":"zd","o":11,"j":0.834,"k":12.52},{"c":"zd","o":12,"j":0.845,"k":13.0},{"c":"zd","o":13,"j":0.852,"k":13.15},{"c":"zd","o":14,"j":0.881,"k":13.48},{"c":"zd","o":15,"j":0.923,"k":13.9},{"c":"zd","o":16,"j":0.965,"k":14.19},{"c":"zd","o":17,"j":1.001,"k":14.49},{"c":"zd","o":18,"j":1.055,"k":14.82},{"c":"zd","o":19,"j":1.103,"k":15.15},{"c":"zd","o":20,"j":1.127,"k":15.3},
{"c":"rs","o":1,"j":0.5,"k":9.65},{"c":"rs","o":2,"j":0.639,"k":10.27},{"c":"rs","o":3,"j":0.672,"k":10.52},{"c":"rs","o":4,"j":0.738,"k":10.91},{"c":"rs","o":5,"j":0.776,"k":11.04},{"c":"rs","o":6,"j":0.818,"k":11.65},{"c":"rs","o":7,"j":0.831,"k":11.98},{"c":"rs","o":8,"j":0.834,"k":12.4},{"c":"rs","o":9,"j":0.845,"k":12.5},{"c":"rs","o":10,"j":0.899,"k":12.88},{"c":"rs","o":11,"j":0.941,"k":13.15},{"c":"rs","o":12,"j":0.971,"k":13.54},
{"c":"rd","o":1,"j":0.775,"k":9.65},{"c":"rd","o":2,"j":0.798,"k":10.04},{"c":"rd","o":3,"j":0.824,"k":10.42},{"c":"rd","o":4,"j":0.839,"k":10.79},{"c":"rd","o":5,"j":0.852,"k":11.15},{"c":"rd","o":6,"j":0.895,"k":11.45},{"c":"rd","o":7,"j":0.947,"k":11.8},{"c":"rd","o":8,"j":0.971,"k":12.16}
],
"red":[
{"j":0.364,"k":10.46},{"j":0.935,"k":10.3},{"j":0.933,"k":10.27},{"j":0.436,"k":11.42},{"j":0.888,"k":11.3},{"j":0.884,"k":11.28},{"j":0.923,"k":12.06},{"j":0.959,"k":12.29},{"j":0.945,"k":12.52},{"j":0.981,"k":12.84},{"j":1.047,"k":12.8},{"j":0.747,"k":12.91},{"j":0.896,"k":13.04},{"j":0.714,"k":13.32},{"j":0.914,"k":13.67},{"j":0.965,"k":13.67},{"j":0.68,"k":13.84},{"j":0.516,"k":14.01},{"j":0.373,"k":14.15},{"j":0.72,"k":14.09},{"j":0.965,"k":14.18},{"j":0.597,"k":14.38},{"j":0.744,"k":14.35},{"j":0.756,"k":14.34},{"j":0.8,"k":14.66},{"j":0.842,"k":14.58},{"j":0.634,"k":14.73},{"j":0.675,"k":14.73},{"j":0.686,"k":14.83},{"j":0.783,"k":14.89},{"j":0.756,"k":15.09},{"j":0.596,"k":15.17},{"j":0.915,"k":15.6},{"j":0.628,"k":15.87},{"j":1.555,"k":14.79},{"j":1.384,"k":15.33},{"j":1.411,"k":15.44},{"j":1.459,"k":15.2},{"j":1.476,"k":15.18}
],
"labels":[
{"t":"ZAMS","c":"zs","j":1.315,"k":11.01},{"t":"1e7 yr","c":"rs","j":1.315,"k":11.46}
]
},
"encoding":{
"x":{"field":"j","type":"quantitative","scale":{"domain":[0.352,1.648],"nice":false,"zero":false},"axis":null},
"y":{"field":"k","type":"quantitative","scale":{"domain":[9.76,16.24],"reverse":true,"nice":false,"zero":false},"axis":null}
},
"layer":[
{"data":{"name":"field"},"mark":{"type":"square","size":2.8,"color":"black","opacity":1,"clip":true},
"encoding":{
"x":{"field":"j","type":"quantitative","scale":{"domain":[0.352,1.648],"nice":false,"zero":false},
"axis":{"orient":"bottom","values":[0.4,0.6,0.8,1.0,1.2,1.4,1.6],"format":".1f","title":"J−K (from 2MASS)","grid":false,"domain":false,"tickSize":10,"tickColor":"black","tickWidth":1,"labelFontSize":17,"labelColor":"black","labelPadding":13,"labelFlush":false,"labelOverlap":false,"titleFontSize":17,"titleFontWeight":"normal","titleColor":"black","titlePadding":25}},
"y":{"field":"k","type":"quantitative","scale":{"domain":[9.76,16.24],"reverse":true,"nice":false,"zero":false},
"axis":{"orient":"left","values":[10,11,12,13,14,15,16],"format":"d","title":"K (from 2MASS)","grid":false,"domain":false,"tickSize":10,"tickColor":"black","tickWidth":1,"labelFontSize":17,"labelColor":"black","labelAngle":-90,"labelAlign":"center","labelBaseline":"alphabetic","labelPadding":14,"labelFlush":false,"labelOverlap":false,"titleFontSize":17,"titleFontWeight":"normal","titleColor":"black","titlePadding":18}}
}},
{"data":{"name":"lines"},"mark":{"type":"line","strokeWidth":2.3,"clip":true},
"encoding":{
"order":{"field":"o","type":"quantitative"},
"color":{"field":"c","type":"nominal","scale":{"domain":["zs","zd","rs","rd"],"range":["#00cd00","#00cd00","#ff0000","#ff0000"]},"legend":null},
"strokeDash":{"field":"c","type":"nominal","scale":{"domain":["zs","zd","rs","rd"],"range":[[1,0],[2,6,8,6],[1,0],[2,6,8,6]]},"legend":null}
}},
{"data":{"name":"red"},"mark":{"type":"circle","size":34,"color":"#ff0000","opacity":1,"clip":true}},
{"data":{"name":"labels"},"mark":{"type":"text","fontSize":17,"align":"left","baseline":"middle","font":"Liberation Sans"},
"encoding":{"text":{"field":"t"},"color":{"field":"c","type":"nominal","scale":{"domain":["zs","zd","rs","rd"],"range":["#00cd00","#00cd00","#ff0000","#ff0000"]},"legend":null}}},
{"data":{"name":"red"},"mark":{"type":"point","opacity":0},
"encoding":{
"x":{"field":"j","type":"quantitative","scale":{"domain":[0.352,1.648],"nice":false,"zero":false},
"axis":{"orient":"top","values":[0.4,0.6,0.8,1.0,1.2,1.4,1.6],"labels":false,"title":null,"grid":false,"domain":false,"tickSize":10,"tickColor":"black","tickWidth":1}},
"y":{"field":"k","type":"quantitative","scale":{"domain":[9.76,16.24],"reverse":true,"nice":false,"zero":false},
"axis":{"orient":"right","values":[10,11,12,13,14,15,16],"labels":false,"title":null,"grid":false,"domain":false,"tickSize":10,"tickColor":"black","tickWidth":1}}
}}
],
"resolve":{"axis":{"x":"independent","y":"independent"}}
}
